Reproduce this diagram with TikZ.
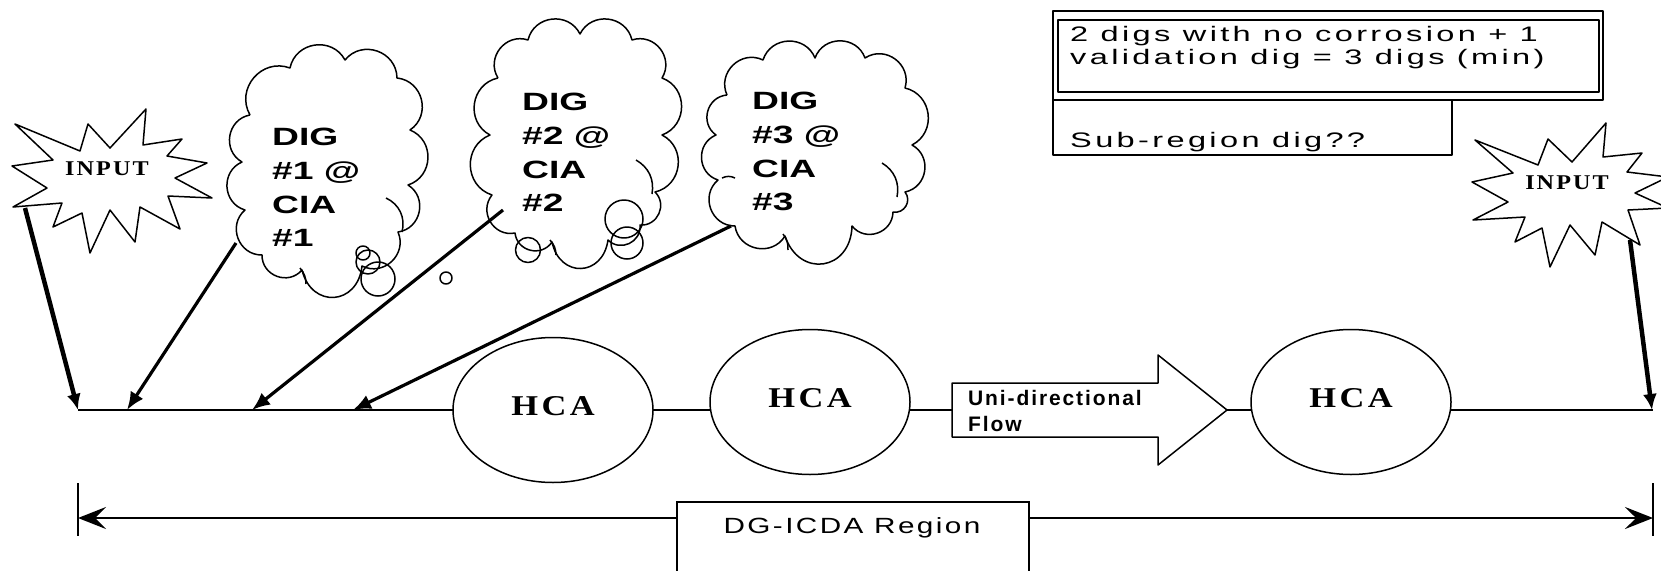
\documentclass[tikz,border=0pt]{standalone}
\usepackage{fontspec}
\setmainfont{Liberation Serif}
\setsansfont{Liberation Sans}
\newfontfamily\digfont{Liberation Sans}[FakeStretch=1.49]
\newfontfamily\hcafont{Liberation Serif}[FakeStretch=1.2,LetterSpace=12]
\newfontfamily\inputfont{Liberation Serif}[FakeStretch=1.15,LetterSpace=10]
\newfontfamily\notefont{Liberation Sans}[FakeStretch=1.55,LetterSpace=16]
\newfontfamily\regionfont{Liberation Sans}[FakeStretch=1.35,LetterSpace=11]
\newfontfamily\flowfont{Liberation Sans}[LetterSpace=9]
\usetikzlibrary{arrows.meta,shapes.geometric}

\begin{document}
\begin{tikzpicture}[x=1pt,y=-1pt,
  shapeline/.style={draw=black,line width=1.5pt,line join=round},
  puff/.style={bend left=70,looseness=1.25},
  bigpuff/.style={bend left=80,looseness=1.7},
  baseline path/.style={draw=black,line width=2pt},
  digarrow/.style={draw=black,line width=3.2pt,-{Latex[length=18pt,width=15pt]}},
  inarrow/.style={draw=black,line width=4.5pt,-{Latex[length=16pt,width=14pt]}},
  dimarrow/.style={draw=black,line width=2.5pt,
    {Stealth[length=28pt,width=22pt,inset=11pt]}-{Stealth[length=28pt,width=22pt,inset=11pt]}},
  tickline/.style={draw=black,line width=2pt},
  digtext/.style={anchor=north west,inner sep=0pt,align=left,
    font=\digfont\bfseries\fontsize{25}{33.7}\selectfont},
  hcanode/.style={ellipse,draw=black,fill=white,line width=1.5pt,inner sep=0pt,
    minimum width=200pt,minimum height=145pt,text depth=9pt,
    font=\hcafont\bfseries\fontsize{28.7}{30}\selectfont},
  inputtext/.style={anchor=base,inner sep=0pt,
    font=\inputfont\bfseries\fontsize{21}{21}\selectfont},
  notetext/.style={anchor=base west,inner sep=0pt,
    font=\notefont\fontsize{21}{23}\selectfont},
  flowtext/.style={anchor=base west,inner sep=0pt,
    font=\flowfont\bfseries\fontsize{21}{25}\selectfont},
]
\useasboundingbox (0,0) rectangle (1661,570);
\fill[white] (0,0) rectangle (1661,570);

% ---- main pipeline line and its end points ----
\coordinate (mainL) at (78,410);
\coordinate (mainR) at (1653,410);
\draw[baseline path] (mainL) -- (mainR);

% ---- HCA segments ----
\node[hcanode] (hca1) at (553,410) {HCA};
\node[hcanode] (hca2) at (810,402) {HCA};
\node[hcanode] (hca3) at (1351,402) {HCA};

% ---- uni-directional flow arrow ----
\draw[shapeline,fill=white] (952,383) -- (1158,383) -- (1158,355) -- (1227,410)
  -- (1158,465) -- (1158,437) -- (952,437) -- cycle;
\node[flowtext] (flow1) at (968,405) {Uni-directional};
\node[flowtext] (flow2) at (968,431) {Flow};

% ---- left INPUT burst ----
\draw[shapeline,fill=white] (15,124) -- (80,151) -- (88,124) -- (110,148) -- (146,109)
  -- (143,145) -- (182,139) -- (167,156) -- (207,163) -- (175,178) -- (212,198)
  -- (168,196) -- (180,229) -- (140,207) -- (135,242) -- (110,210) -- (90,253)
  -- (82,213) -- (53,227) -- (62,203) -- (13,207) -- (47,188) -- (12,166)
  -- (53,160) -- cycle;
\node[inputtext] (inL) at (107,175) {INPUT};

% ---- right INPUT burst (runs off the right edge) ----
\draw[shapeline,fill=white] (1475,140) -- (1538,165) -- (1548,139) -- (1572,162)
  -- (1606,123) -- (1603,157) -- (1642,153) -- (1627,172) -- (1668,177)
  -- (1635,193) -- (1668,208) -- (1628,210) -- (1640,245) -- (1602,222)
  -- (1595,255) -- (1570,225) -- (1550,267) -- (1542,228) -- (1515,242)
  -- (1525,217) -- (1473,220) -- (1508,202) -- (1472,182) -- (1513,173) -- cycle;
\node[inputtext] (inR) at (1567,189) {INPUT};

% ---- thought clouds ----
\draw[shapeline] (250,115) to[puff] (290,68) to[puff] (345,60) to[puff] (397,78)
  to[puff] (410,130) to[puff] (408,185) to[puff] (398,232) to[puff] (362,266)
  to[bigpuff] (302,270) to[puff] (262,255) to[puff] (245,210) to[puff] (242,162)
  to[puff] (250,115);
\draw[shapeline] (386,198) to[bend left=40] (402,232);
\draw[shapeline] (300,268) to[bend left=20] (306,284);
\draw[shapeline] (363,253) circle[radius=7];
\draw[shapeline] (368,262) circle[radius=12];
\draw[shapeline] (378,279) circle[radius=17];
\draw[shapeline] (446,278) circle[radius=6];
\node[digtext] (dig1) at (272,128) {DIG\\\#1 @\\CIA\\\#1};

\draw[shapeline] (498,78) to[puff] (528,40) to[puff] (580,34) to[puff] (632,40)
  to[puff] (662,78) to[puff] (662,135) to[puff] (655,192) to[puff] (640,225)
  to[puff] (608,240) to[bigpuff] (552,242) to[puff] (515,233) to[puff] (492,195)
  to[puff] (490,135) to[puff] (498,78);
\draw[shapeline] (636,160) to[bend left=35] (652,194);
\draw[shapeline] (550,240) to[bend left=20] (556,255);
\draw[shapeline] (528,250) circle[radius=12.5];
\draw[shapeline] (624,219) circle[radius=19];
\draw[shapeline] (627,243) circle[radius=16];
\node[digtext] (dig2) at (522,93) {DIG\\\#2 @\\CIA\\\#2};

\draw[shapeline] (727,95) to[puff] (763,60) to[puff] (815,58) to[puff] (865,58)
  to[puff] (905,88) to[puff] (912,145) to[puff] (905,192) to[puff] (893,212)
  to[puff] (852,226) to[bigpuff] (785,236) to[puff] (735,226) to[puff] (718,180)
  to[puff] (716,135) to[puff] (727,95);
\draw[shapeline] (882,163) to[bend left=35] (897,197);
\draw[shapeline] (783,234) to[bend left=20] (788,250);
\draw[shapeline] (722,178) to[bend left=25] (735,178);
\node[digtext] (dig3) at (752,92) {DIG\\\#3 @\\CIA\\\#3};

% ---- feeds onto the pipeline ----
\coordinate (s0) at (25,208);   \coordinate (t0) at (78,410);
\coordinate (s1) at (236,243);  \coordinate (t1) at (127,410);
\coordinate (s2) at (503,210);  \coordinate (t2) at (252,410);
\coordinate (s3) at (731,226);  \coordinate (t3) at (353,410);
\coordinate (s4) at (1630,240); \coordinate (t4) at (1652,410);
\draw[inarrow] (s0) -- (t0);
\draw[digarrow] (s1) -- (t1);
\draw[digarrow] (s2) -- (t2);
\draw[digarrow] (s3) -- (t3);
\draw[inarrow] (s4) -- (t4);

% ---- region extent ----
\coordinate (dimL) at (78,518);
\coordinate (dimR) at (1653,518);
\draw[tickline] (78,483) -- (78,536);
\draw[tickline] (1653,483) -- (1653,536);
\draw[dimarrow] (dimL) -- (dimR);
\node[draw=black,fill=white,line width=1.5pt,anchor=north west,inner sep=0pt,
  minimum width=352pt,minimum height=80pt] (regionbox) at (676,501) {};
\node[anchor=base,inner sep=0pt,font=\regionfont\fontsize{22}{24}\selectfont]
  (region) at (852,533) {DG-ICDA Region};

% ---- requirement notes ----
\draw[shapeline] (1053,11) rectangle (1603,100);
\draw[shapeline] (1058,20) rectangle (1599,92);
\draw[shapeline] (1053,100) rectangle (1452,155);
\node[notetext] (note1) at (1070,41) {2 digs with no corrosion + 1};
\node[notetext] (note2) at (1070,64) {validation dig = 3 digs (min)};
\node[notetext] (note3) at (1070,147) {Sub-region dig??};
\end{tikzpicture}
\end{document}
